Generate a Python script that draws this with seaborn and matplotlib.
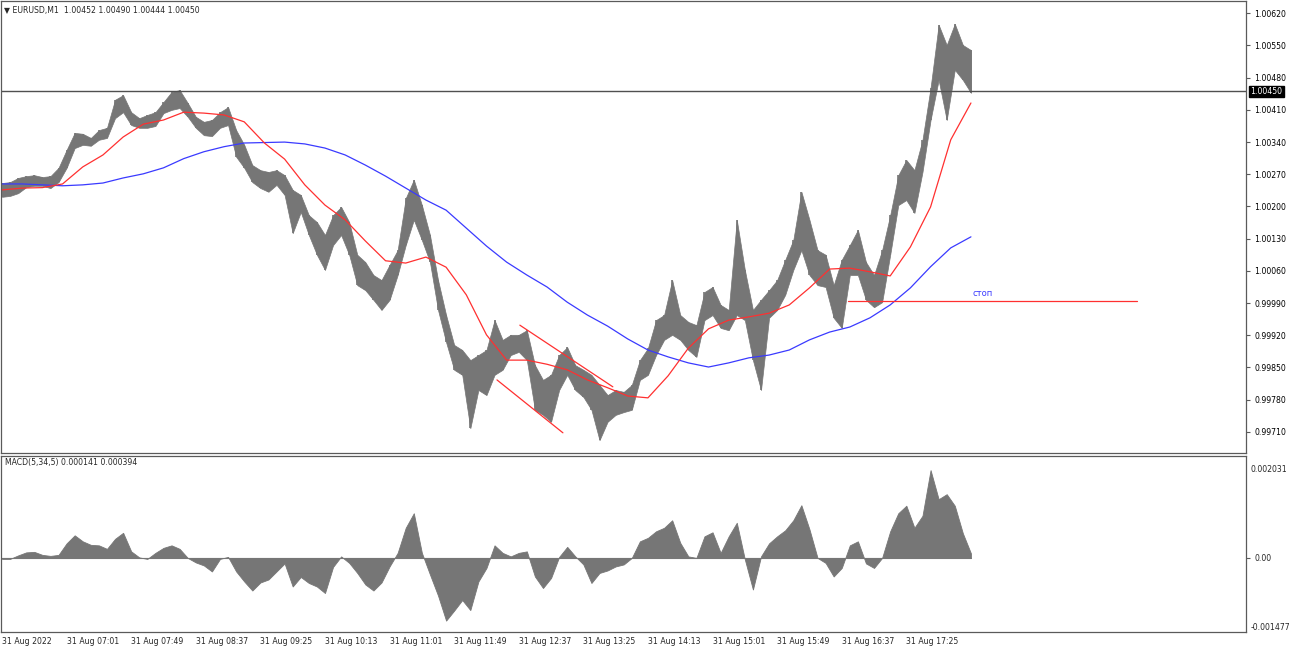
import numpy as np
import pandas as pd
import matplotlib
matplotlib.use("Agg")
import matplotlib.pyplot as plt
import matplotlib.transforms as mtransforms
import seaborn as sns

sns.set_style("white")
plt.rcParams['font.family'] = ['DejaVu Sans']

# ---------------- data ----------------
symbol_header = "\u25BC EURUSD,M1  1.00452 1.00490 1.00444 1.00450"
macd_header = "MACD(5,34,5) 0.000141 0.000394"
last_price = 1.00450

# price envelope sampled every 6 one-minute bars (bar index from 06:13)
price_bars = list(range(0, 721, 6))
high = [1.00251, 1.00253, 1.00262, 1.00266, 1.00268, 1.00264, 1.00266, 1.00284, 1.00323, 1.00360,
        1.00358, 1.00349, 1.00366, 1.00371, 1.00432, 1.00442, 1.00405, 1.00392, 1.00399, 1.00405,
        1.00427, 1.00449, 1.00453, 1.00425, 1.00395, 1.00384, 1.00388, 1.00405, 1.00416, 1.00366,
        1.00334, 1.00290, 1.00279, 1.00275, 1.00279, 1.00268, 1.00236, 1.00225, 1.00181, 1.00166,
        1.00138, 1.00181, 1.00199, 1.00166, 1.00095, 1.00079, 1.00051, 1.00040, 1.00073, 1.00105,
        1.00218, 1.00258, 1.00203, 1.00138, 1.00040, 0.99964, 0.99899, 0.99888, 0.99866, 0.99877,
        0.99888, 0.99953, 0.99910, 0.99921, 0.99921, 0.99931, 0.99855, 0.99823, 0.99834, 0.99877,
        0.99894, 0.99855, 0.99845, 0.99834, 0.99812, 0.99790, 0.99801, 0.99797, 0.99812, 0.99866,
        0.99892, 0.99953, 0.99964, 1.00040, 0.99964, 0.99949, 0.99942, 1.00014, 1.00025, 0.99986,
        0.99975, 1.00171, 1.00062, 0.99975, 0.99997, 1.00018, 1.00040, 1.00084, 1.00127, 1.00232,
        1.00171, 1.00105, 1.00095, 1.00029, 1.00084, 1.00116, 1.00149, 1.00079, 1.00051, 1.00105,
        1.00181, 1.00268, 1.00301, 1.00279, 1.00345, 1.00458, 1.00595, 1.00551, 1.00597, 1.00551,
        1.00540]
low = [1.00221, 1.00223, 1.00229, 1.00242, 1.00245, 1.00245, 1.00240, 1.00253, 1.00284, 1.00327,
       1.00334, 1.00332, 1.00345, 1.00349, 1.00392, 1.00405, 1.00377, 1.00371, 1.00371, 1.00375,
       1.00403, 1.00410, 1.00414, 1.00395, 1.00371, 1.00355, 1.00353, 1.00371, 1.00377, 1.00308,
       1.00284, 1.00253, 1.00240, 1.00232, 1.00247, 1.00225, 1.00142, 1.00188, 1.00138, 1.00095,
       1.00062, 1.00116, 1.00138, 1.00095, 1.00029, 1.00018, 0.99997, 0.99975, 0.99997, 1.00051,
       1.00116, 1.00171, 1.00127, 1.00079, 0.99975, 0.99905, 0.99845, 0.99834, 0.99718, 0.99801,
       0.99790, 0.99834, 0.99845, 0.99877, 0.99884, 0.99866, 0.99758, 0.99747, 0.99732, 0.99801,
       0.99834, 0.99801, 0.99786, 0.99758, 0.99692, 0.99732, 0.99747, 0.99753, 0.99758, 0.99823,
       0.99834, 0.99877, 0.99910, 0.99921, 0.99910, 0.99888, 0.99873, 0.99953, 0.99964, 0.99936,
       0.99931, 0.99964, 0.99953, 0.99866, 0.99801, 0.99958, 0.99975, 1.00008, 1.00062, 1.00105,
       1.00051, 1.00029, 1.00025, 0.99958, 0.99936, 1.00051, 1.00051, 0.99997, 0.99981, 0.99992,
       1.00095, 1.00203, 1.00214, 1.00186, 1.00275, 1.00388, 1.00475, 1.00388, 1.00497, 1.00475,
       1.00447]

# moving averages sampled every 15 bars
ma_bars = list(range(0, 721, 15))
ma_fast = [1.00236, 1.00240, 1.00241, 1.00249, 1.00286, 1.00312, 1.00351, 1.00379, 1.00388, 1.00405,
           1.00403, 1.00399, 1.00384, 1.00338, 1.00303, 1.00247, 1.00203, 1.00171, 1.00125, 1.00082,
           1.00077, 1.00090, 1.00068, 1.00008, 0.99921, 0.99866, 0.99866, 0.99857, 0.99845, 0.99823,
           0.99806, 0.99788, 0.99784, 0.99832, 0.99892, 0.99934, 0.99953, 0.99960, 0.99968, 0.99986,
           1.00023, 1.00064, 1.00066, 1.00058, 1.00049, 1.00112, 1.00199, 1.00345, 1.00425]
ma_slow = [1.00249, 1.00249, 1.00247, 1.00245, 1.00247, 1.00251, 1.00262, 1.00271, 1.00284, 1.00304,
           1.00319, 1.00330, 1.00338, 1.00339, 1.00340, 1.00336, 1.00327, 1.00312, 1.00290, 1.00266,
           1.00240, 1.00214, 1.00192, 1.00153, 1.00114, 1.00079, 1.00051, 1.00025, 0.99992, 0.99964,
           0.99940, 0.99912, 0.99888, 0.99873, 0.99860, 0.99851, 0.99860, 0.99871, 0.99877, 0.99888,
           0.99910, 0.99927, 0.99938, 0.99958, 0.99986, 1.00023, 1.00069, 1.00110, 1.00134]

# MACD histogram sampled every 6 bars
macd_hist = [-0.00002, -0.00002, 0.00005, 0.00011, 0.00012, 0.00006, 0.00004, 0.00006, 0.00029, 0.00045,
             0.00033, 0.00026, 0.00025, 0.00018, 0.00038, 0.00050, 0.00013, 0.00001, -0.00002, 0.00010,
             0.00020, 0.00025, 0.00018, 0.00000, -0.00009, -0.00015, -0.00027, -0.00002, 0.00002, -0.00027,
             -0.00047, -0.00065, -0.00049, -0.00043, -0.00027, -0.00011, -0.00057, -0.00038, -0.00050, -0.00057,
             -0.00070, -0.00018, 0.00003, -0.00010, -0.00030, -0.00053, -0.00065, -0.00049, -0.00017, 0.00010,
             0.00060, 0.00089, 0.00010, -0.00033, -0.00075, -0.00125, -0.00105, -0.00084, -0.00104, -0.00047,
             -0.00020, 0.00025, 0.00010, 0.00003, 0.00010, 0.00013, -0.00037, -0.00060, -0.00040, 0.00002,
             0.00022, 0.00003, -0.00013, -0.00050, -0.00030, -0.00025, -0.00017, -0.00013, 0.00000, 0.00033,
             0.00040, 0.00053, 0.00060, 0.00075, 0.00030, 0.00003, 0.00000, 0.00043, 0.00051, 0.00010,
             0.00043, 0.00070, -0.00003, -0.00063, 0.00003, 0.00029, 0.00043, 0.00055, 0.00075, 0.00105,
             0.00057, 0.00000, -0.00010, -0.00037, -0.00020, 0.00025, 0.00033, -0.00011, -0.00020, 0.00000,
             0.00053, 0.00089, 0.00104, 0.00060, 0.00084, 0.00175, 0.00117, 0.00127, 0.00104, 0.00049,
             0.00009]
macd_max = 0.002031
macd_min = -0.001477

# hand-drawn objects
trend_upper_bars = [384.8, 453.9]
trend_upper_prices = [0.99942, 0.99808]
trend_lower_bars = [367.8, 416.8]
trend_lower_prices = [0.99823, 0.99708]
stop_bars = [628.5, 843.2]
stop_price = 0.99995
stop_label = "стоп"
stop_label_bar = 721
stop_label_price = 1.00010

price_ticks = [1.00620, 1.00550, 1.00480, 1.00410, 1.00340, 1.00270, 1.00200,
               1.00130, 1.00060, 0.99990, 0.99920, 0.99850, 0.99780, 0.99710]
time_tick_bars = [0, 48, 96, 144, 192, 240, 288, 336, 384, 432, 480, 528, 576, 624, 672]
time_labels = ["31 Aug 2022", "31 Aug 07:01", "31 Aug 07:49", "31 Aug 08:37", "31 Aug 09:25",
               "31 Aug 10:13", "31 Aug 11:01", "31 Aug 11:49", "31 Aug 12:37", "31 Aug 13:25",
               "31 Aug 14:13", "31 Aug 15:01", "31 Aug 15:49", "31 Aug 16:37", "31 Aug 17:25"]

# ---------------- figure ----------------
W, H = 1290, 647
fig = plt.figure(figsize=(W / 100, H / 100), dpi=100)
fig.patch.set_facecolor("white")

def rect(x0, y0, x1, y1):
    return [x0 / W, 1 - y1 / H, (x1 - x0) / W, (y1 - y0) / H]

ax1 = fig.add_axes(rect(1, 1, 1246, 453))
ax2 = fig.add_axes(rect(1, 456, 1246, 632))

XMIN, XMAX = -0.75, 924.4
FS = 5.6
frame_col = "#5a5a5a"
bar_col = "#767676"

for ax in (ax1, ax2):
    ax.set_facecolor("white")
    ax.set_xlim(XMIN, XMAX)
    for s in ax.spines.values():
        s.set_color(frame_col)
        s.set_linewidth(0.9)

# price panel
ax1.set_ylim(0.996641, 1.006467)
ax1.fill_between(price_bars, low, high, color=bar_col, linewidth=0.5, edgecolor=bar_col)
ax1.vlines(price_bars, low, high, color=bar_col, linewidth=1.2)
df_ma = pd.DataFrame({"bar": ma_bars, "fast": ma_fast, "slow": ma_slow})
sns.lineplot(data=df_ma, x="bar", y="slow", ax=ax1, color="#3a3aff", linewidth=0.9, estimator=None)
sns.lineplot(data=df_ma, x="bar", y="fast", ax=ax1, color="#ff3030", linewidth=0.9, estimator=None)
ax1.plot(trend_upper_bars, trend_upper_prices, color="#ff3030", linewidth=0.9)
ax1.plot(trend_lower_bars, trend_lower_prices, color="#ff3030", linewidth=0.9)
ax1.plot(stop_bars, [stop_price, stop_price], color="#ff3030", linewidth=0.9)
ax1.text(stop_label_bar, stop_label_price, stop_label, color="#3a3aff", fontsize=FS + 0.4,
         ha="left", va="center")
ax1.axhline(last_price, color="#505050", linewidth=1.0)

ax1.set_xticks([])
ax1.yaxis.tick_right()
ax1.set_yticks(price_ticks)
ax1.set_yticklabels([f"{p:.5f}" for p in price_ticks])
ax1.tick_params(axis="y", direction="out", length=3, width=0.8, pad=3, labelsize=FS,
                colors="black")
ax1.tick_params(axis="y", color=frame_col)
ax1.set_xlabel("")
ax1.set_ylabel("")
trans1 = mtransforms.blended_transform_factory(ax1.transAxes, ax1.transData)
ax1.text(1.0035, last_price, f"{last_price:.5f}", transform=trans1, ha="left", va="center",
         fontsize=FS, color="white",
         bbox=dict(boxstyle="square,pad=0.15", facecolor="black", edgecolor="black"))

# MACD panel
ax2.set_ylim(macd_min, macd_max)
ax2.fill_between(price_bars, 0, macd_hist, color=bar_col, linewidth=0.6, edgecolor=bar_col)
ax2.plot([price_bars[0], price_bars[-1]], [0, 0], color=bar_col, linewidth=0.8)
ax2.yaxis.tick_right()
ax2.set_yticks([0.0])
ax2.set_yticklabels(["0.00"])
ax2.tick_params(axis="y", direction="out", length=3, width=0.8, pad=3, labelsize=FS,
                color=frame_col)
ax2.text(1.0035, 1 - 14 / 176, f"{macd_max:.6f}", transform=ax2.transAxes, ha="left",
         va="center", fontsize=FS)
ax2.text(1.0035, 4 / 176, f"{macd_min:.6f}", transform=ax2.transAxes, ha="left",
         va="center", fontsize=FS)
ax2.set_xticks(time_tick_bars)
ax2.set_xticklabels(time_labels, ha="left")
ax2.tick_params(axis="x", direction="out", length=3, width=0.8, pad=0.3, labelsize=FS,
                color=frame_col)
ax2.set_xlabel("")
ax2.set_ylabel("")

fig.text(4 / W, 1 - 11 / H, symbol_header, fontsize=FS, ha="left", va="center")
fig.text(5 / W, 1 - 463 / H, macd_header, fontsize=FS, ha="left", va="center")

fig.savefig("out.png", dpi=100, facecolor="white")
